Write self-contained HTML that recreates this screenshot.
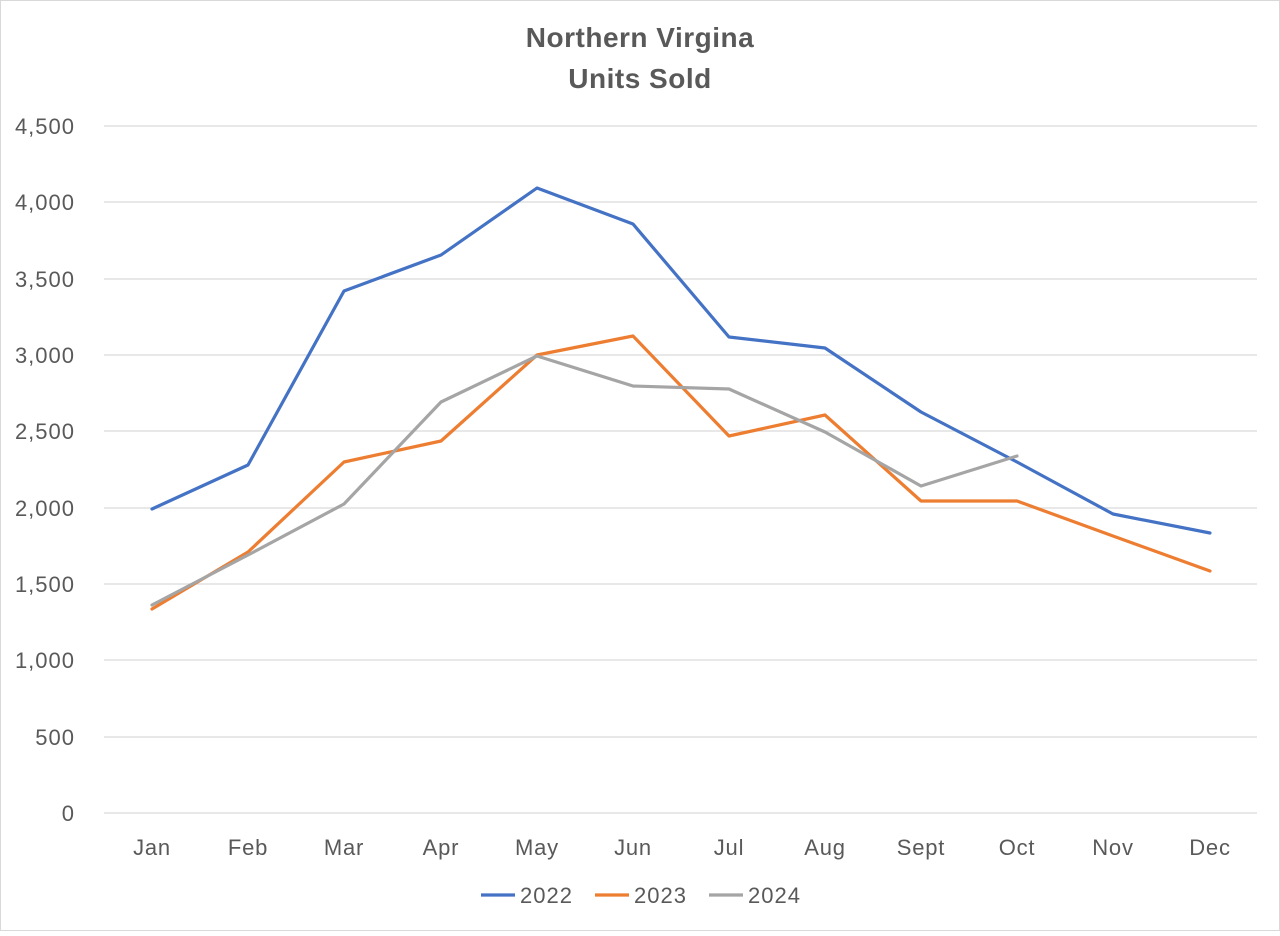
<!DOCTYPE html>
<html><head><style>
body{margin:0;background:#fff;}
svg text{font-family:"Liberation Sans",sans-serif;fill:#595959;}
</style></head><body>
<svg width="1280" height="931" viewBox="0 0 1280 931" xmlns="http://www.w3.org/2000/svg">
<rect x="0.5" y="0.5" width="1279" height="930" fill="#fff" stroke="#d9d9d9"/>
<text x="640" y="47" font-size="28" font-weight="bold" text-anchor="middle" letter-spacing="0.5">Northern Virgina</text>
<text x="640" y="88" font-size="28" font-weight="bold" text-anchor="middle" letter-spacing="0.5">Units Sold</text>
<g stroke="#d9d9d9" stroke-width="1.3">
<line x1="104" x2="1257" y1="126" y2="126"/><line x1="104" x2="1257" y1="202" y2="202"/>
<line x1="104" x2="1257" y1="279" y2="279"/><line x1="104" x2="1257" y1="355" y2="355"/>
<line x1="104" x2="1257" y1="431" y2="431"/><line x1="104" x2="1257" y1="508" y2="508"/>
<line x1="104" x2="1257" y1="584" y2="584"/><line x1="104" x2="1257" y1="660" y2="660"/>
<line x1="104" x2="1257" y1="737" y2="737"/><line x1="104" x2="1257" y1="813" y2="813"/>
</g>
<g font-size="22" text-anchor="end" letter-spacing="1">
<text x="75" y="134">4,500</text><text x="75" y="210">4,000</text><text x="75" y="287">3,500</text>
<text x="75" y="363">3,000</text><text x="75" y="439">2,500</text><text x="75" y="516">2,000</text>
<text x="75" y="592">1,500</text><text x="75" y="668">1,000</text><text x="75" y="745">500</text>
<text x="75" y="821">0</text>
</g>
<g font-size="22" text-anchor="middle" letter-spacing="0.8">
<text x="152" y="855">Jan</text><text x="248" y="855">Feb</text><text x="344" y="855">Mar</text>
<text x="441" y="855">Apr</text><text x="537" y="855">May</text><text x="633" y="855">Jun</text>
<text x="729" y="855">Jul</text><text x="825" y="855">Aug</text><text x="921" y="855">Sept</text>
<text x="1017" y="855">Oct</text><text x="1113" y="855">Nov</text><text x="1210" y="855">Dec</text>
</g>
<g fill="none" stroke-width="3.2" stroke-linejoin="round" stroke-linecap="round">
<polyline stroke="#4472c4" points="152,509 248,465 344,291 441,255 537,188 633,224 729,337 825,348 921,412 1017,462 1113,514 1210,533"/>
<polyline stroke="#ed7d31" points="152,609 248,552 344,462 441,441 537,355 633,336 729,436 825,415 921,501 1017,501 1113,536 1210,571"/>
<polyline stroke="#a5a5a5" points="152,605 248,555 344,504 441,402 537,356 633,386 729,389 825,432 921,486 1017,456"/>
</g>
<g stroke-width="3.2">
<line x1="481" x2="515" y1="895" y2="895" stroke="#4472c4"/>
<line x1="595" x2="629" y1="895" y2="895" stroke="#ed7d31"/>
<line x1="709" x2="743" y1="895" y2="895" stroke="#a5a5a5"/>
</g>
<g font-size="22" letter-spacing="1">
<text x="520" y="903">2022</text><text x="634" y="903">2023</text><text x="748" y="903">2024</text>
</g>
</svg>
</body></html>
